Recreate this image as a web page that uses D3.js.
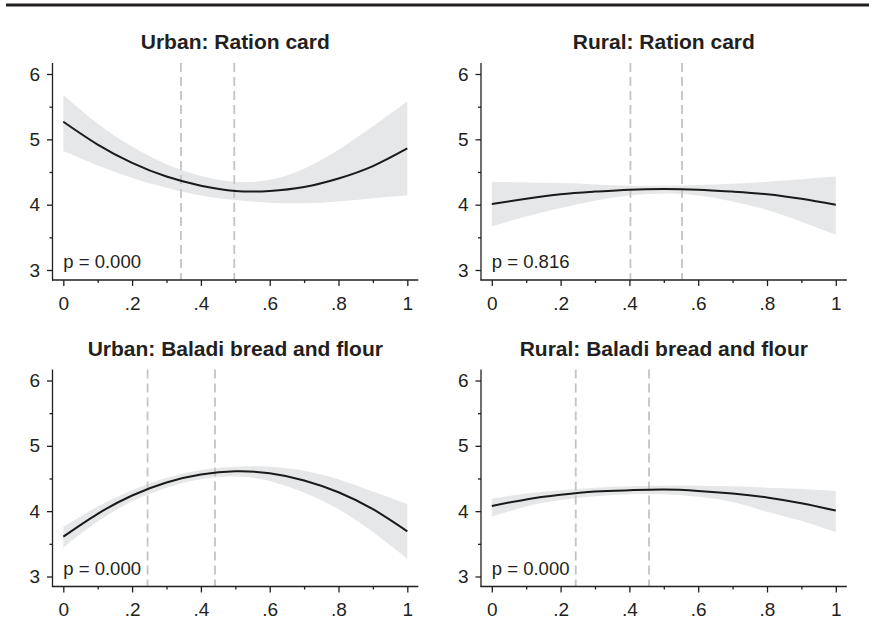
<!DOCTYPE html>
<html>
<head>
<meta charset="utf-8">
<script src="https://cdn.jsdelivr.net/npm/d3@7"></script>
<style>
  body { margin: 0; background: #fff; }
  svg { display: block; font-family: "Liberation Sans", Arial, sans-serif; }
  .axis text { font-size: 19px; fill: #231f20; }
  .axis line { stroke: #231f20; stroke-width: 1.3px; }
</style>
</head>
<body>
<script>
// shared x grid (share of population) and panel data
const xGrid = [0, 0.1, 0.2, 0.3, 0.4, 0.5, 0.6, 0.7, 0.8, 0.9, 1];

const titles = ["Urban: Ration card", "Rural: Ration card",
                "Urban: Baladi bread and flour", "Rural: Baladi bread and flour"];
const pValues = ["p = 0.000", "p = 0.816", "p = 0.000", "p = 0.000"];
const cutoffs = [[0.342, 0.497], [0.403, 0.553], [0.245, 0.441], [0.244, 0.457]];

const urbanRationFit   = [5.27, 4.92, 4.64, 4.43, 4.29, 4.21, 4.21, 4.27, 4.40, 4.59, 4.86];
const urbanRationUpper = [5.68, 5.24, 4.89, 4.62, 4.44, 4.35, 4.38, 4.55, 4.84, 5.20, 5.58];
const urbanRationLower = [4.82, 4.60, 4.41, 4.26, 4.14, 4.07, 4.03, 4.02, 4.05, 4.10, 4.14];

const ruralRationFit   = [4.01, 4.09, 4.16, 4.20, 4.23, 4.24, 4.23, 4.20, 4.16, 4.09, 4.00];
const ruralRationUpper = [4.35, 4.34, 4.33, 4.31, 4.29, 4.29, 4.30, 4.32, 4.35, 4.39, 4.43];
const ruralRationLower = [3.67, 3.82, 3.95, 4.06, 4.14, 4.17, 4.14, 4.05, 3.92, 3.74, 3.54];

const urbanBreadFit    = [3.61, 3.96, 4.24, 4.44, 4.56, 4.61, 4.58, 4.47, 4.29, 4.03, 3.69];
const urbanBreadUpper  = [3.76, 4.07, 4.32, 4.51, 4.63, 4.68, 4.68, 4.62, 4.49, 4.30, 4.11];
const urbanBreadLower  = [3.44, 3.84, 4.15, 4.36, 4.49, 4.53, 4.46, 4.28, 4.03, 3.68, 3.27];

const ruralBreadFit    = [4.08, 4.18, 4.25, 4.30, 4.32, 4.33, 4.31, 4.27, 4.21, 4.12, 4.01];
const ruralBreadUpper  = [4.19, 4.27, 4.32, 4.36, 4.38, 4.39, 4.39, 4.38, 4.36, 4.34, 4.31];
const ruralBreadLower  = [3.92, 4.07, 4.17, 4.23, 4.26, 4.26, 4.22, 4.14, 3.99, 3.85, 3.68];

const fits   = [urbanRationFit, ruralRationFit, urbanBreadFit, ruralBreadFit];
const uppers = [urbanRationUpper, ruralRationUpper, urbanBreadUpper, ruralBreadUpper];
const lowers = [urbanRationLower, ruralRationLower, urbanBreadLower, ruralBreadLower];

const yMajor = [3, 4, 5, 6];
const yMinor = [3.5, 4.5, 5.5];
const xMajor = [0, 0.2, 0.4, 0.6, 0.8, 1];
const xMinor = [0.1, 0.3, 0.5, 0.7, 0.9];

const width = 869, height = 637;
const colStep = 428.5, rowStep = 306.5;
const ink = "#231f20";

const svg = d3.select("body").append("svg")
  .attr("width", width)
  .attr("height", height);

svg.append("rect").attr("width", width).attr("height", height).attr("fill", "#fff");

// heavy rule at top
svg.append("line")
  .attr("x1", 6).attr("x2", width)
  .attr("y1", 5).attr("y2", 5)
  .attr("stroke", ink).attr("stroke-width", 3);

const x = d3.scaleLinear().domain([0, 1]).range([63.3, 407.3]);
const y = d3.scaleLinear().domain([3, 6]).range([270, 74]);

const fmtX = d => d === 0 ? "0" : d === 1 ? "1" : d3.format(".1f")(d).replace(/^0/, "");

titles.forEach((title, i) => {
  const g = svg.append("g")
    .attr("transform", `translate(${(i % 2) * colStep},${Math.floor(i / 2) * rowStep})`);

  const pts = xGrid.map((xv, j) => ({ x: xv, fit: fits[i][j], hi: uppers[i][j], lo: lowers[i][j] }));

  // confidence band
  g.append("path")
    .datum(pts)
    .attr("fill", "#e6e7e8")
    .attr("d", d3.area()
      .x(d => x(d.x))
      .y0(d => y(d.lo))
      .y1(d => y(d.hi))
      .curve(d3.curveNatural));

  // cutoff lines
  g.selectAll(".cut")
    .data(cutoffs[i])
    .enter().append("line")
    .attr("x1", d => x(d)).attr("x2", d => x(d))
    .attr("y1", 63).attr("y2", 280)
    .attr("stroke", "#c4c4c4")
    .attr("stroke-width", 1.8)
    .attr("stroke-dasharray", "9,5");

  // fitted curve
  g.append("path")
    .datum(pts)
    .attr("fill", "none")
    .attr("stroke", "#1a1a1a")
    .attr("stroke-width", 2)
    .attr("d", d3.line()
      .x(d => x(d.x))
      .y(d => y(d.fit))
      .curve(d3.curveNatural));

  // axes
  const yAx = g.append("g").attr("class", "axis").attr("transform", "translate(52.5,0)");
  yAx.call(d3.axisLeft(y).tickValues(yMajor).tickSize(5.5).tickPadding(7).tickFormat(d3.format("d")));
  yAx.append("g").call(d3.axisLeft(y).tickValues(yMinor).tickSize(3).tickFormat(""));

  const xAx = g.append("g").attr("class", "axis").attr("transform", "translate(0,280)");
  xAx.call(d3.axisBottom(x).tickValues(xMajor).tickSize(6).tickPadding(10.5).tickFormat(fmtX));
  xAx.append("g").call(d3.axisBottom(x).tickValues(xMinor).tickSize(3).tickFormat(""));

  g.selectAll(".axis, .axis g").attr("font-family", null).attr("font-size", null);
  g.selectAll(".axis .domain").remove();

  g.append("line").attr("x1", 52.5).attr("x2", 52.5).attr("y1", 63).attr("y2", 280.6)
    .attr("stroke", ink).attr("stroke-width", 1.3);
  g.append("line").attr("x1", 52).attr("x2", 418.3).attr("y1", 280).attr("y2", 280)
    .attr("stroke", ink).attr("stroke-width", 1.3);

  // title
  g.append("text")
    .attr("x", (x(0) + x(1)) / 2)
    .attr("y", 49)
    .attr("text-anchor", "middle")
    .attr("font-size", 21)
    .attr("font-weight", "bold")
    .attr("fill", ink)
    .text(title);

  // p-value
  g.append("text")
    .attr("x", x(0))
    .attr("y", y(3) - 2)
    .attr("font-size", 18.5)
    .attr("fill", ink)
    .text(pValues[i]);
});
</script>
</body>
</html>
